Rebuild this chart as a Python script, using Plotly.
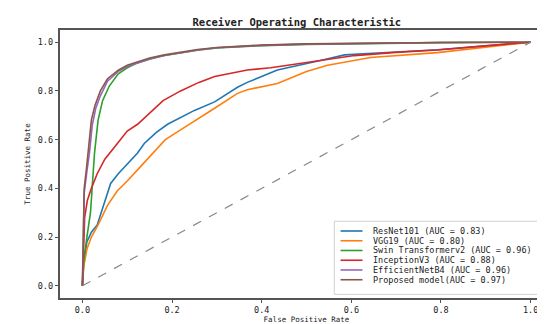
import plotly.graph_objects as go

# ---- data ----
resnet_fpr = [0, 0.003, 0.01, 0.02, 0.033, 0.045, 0.063, 0.08, 0.1, 0.123, 0.138, 0.165, 0.19, 0.219, 0.25, 0.295, 0.346, 0.368, 0.435, 0.531, 0.585, 0.7, 0.792, 0.9, 1.0]
resnet_tpr = [0, 0.1, 0.18, 0.22, 0.25, 0.32, 0.42, 0.46, 0.5, 0.545, 0.584, 0.63, 0.663, 0.69, 0.72, 0.755, 0.815, 0.835, 0.886, 0.925, 0.948, 0.96, 0.969, 0.985, 1.0]

vgg_fpr = [0, 0.003, 0.01, 0.02, 0.035, 0.056, 0.078, 0.1, 0.125, 0.152, 0.185, 0.219, 0.26, 0.295, 0.346, 0.368, 0.435, 0.5, 0.547, 0.643, 0.792, 0.9, 1.0]
vgg_tpr = [0, 0.08, 0.15, 0.2, 0.25, 0.33, 0.39, 0.43, 0.48, 0.533, 0.6, 0.64, 0.69, 0.729, 0.79, 0.805, 0.83, 0.88, 0.905, 0.937, 0.957, 0.98, 1.0]

swin_fpr = [0, 0.003, 0.01, 0.018, 0.027, 0.035, 0.045, 0.06, 0.08, 0.1, 0.123, 0.15, 0.183, 0.22, 0.257, 0.3, 0.4, 0.5, 0.6, 0.8, 1.0]
swin_tpr = [0, 0.1, 0.2, 0.3, 0.545, 0.68, 0.76, 0.82, 0.87, 0.895, 0.915, 0.93, 0.945, 0.957, 0.967, 0.976, 0.986, 0.991, 0.994, 0.998, 1.0]

incep_fpr = [0, 0.002, 0.005, 0.011, 0.02, 0.033, 0.05, 0.078, 0.1, 0.123, 0.145, 0.18, 0.219, 0.26, 0.295, 0.368, 0.42, 0.531, 0.607, 0.7, 0.792, 0.9, 1.0]
incep_tpr = [0, 0.15, 0.28, 0.35, 0.4, 0.46, 0.52, 0.584, 0.635, 0.663, 0.7, 0.76, 0.8, 0.835, 0.859, 0.886, 0.895, 0.925, 0.945, 0.958, 0.968, 0.985, 1.0]

effnet_fpr = [0, 0.002, 0.004, 0.01, 0.016, 0.022, 0.03, 0.04, 0.056, 0.08, 0.1, 0.123, 0.15, 0.183, 0.22, 0.257, 0.3, 0.4, 0.5, 0.6, 0.8, 1.0]
effnet_tpr = [0, 0.2, 0.38, 0.47, 0.55, 0.66, 0.73, 0.78, 0.84, 0.88, 0.9, 0.915, 0.932, 0.945, 0.958, 0.968, 0.977, 0.987, 0.992, 0.995, 0.999, 1.0]

prop_fpr = [0, 0.002, 0.004, 0.009, 0.014, 0.02, 0.028, 0.04, 0.056, 0.08, 0.1, 0.123, 0.15, 0.183, 0.22, 0.257, 0.3, 0.4, 0.5, 0.6, 0.8, 1.0]
prop_tpr = [0, 0.25, 0.4, 0.48, 0.58, 0.68, 0.74, 0.8, 0.85, 0.885, 0.905, 0.92, 0.935, 0.948, 0.96, 0.97, 0.978, 0.988, 0.993, 0.996, 0.999, 1.0]

labels = [
    "ResNet101 (AUC = 0.83)",
    "VGG19 (AUC = 0.80)",
    "Swin Transformerv2 (AUC = 0.96)",
    "InceptionV3 (AUC = 0.88)",
    "EfficientNetB4 (AUC = 0.96)",
    "Proposed model(AUC = 0.97)",
]
colors = ["#1f77b4", "#ff7f0e", "#2ca02c", "#d62728", "#9467bd", "#8c564b"]
series = [
    (resnet_fpr, resnet_tpr),
    (vgg_fpr, vgg_tpr),
    (swin_fpr, swin_tpr),
    (incep_fpr, incep_tpr),
    (effnet_fpr, effnet_tpr),
    (prop_fpr, prop_tpr),
]
tick_vals = [0, 0.2, 0.4, 0.6, 0.8, 1.0]
tick_text = ["0.0", "0.2", "0.4", "0.6", "0.8", "1.0"]

MONO = "DejaVu Sans Mono"

fig = go.Figure()
for (fx, ty), name, col in zip(series, labels, colors):
    fig.add_trace(go.Scatter(x=fx, y=ty, mode="lines", name=name,
                             line=dict(color=col, width=1.6), showlegend=False))
fig.add_trace(go.Scatter(x=[0, 1], y=[0, 1], mode="lines", showlegend=False,
                         line=dict(color="#888888", width=1.2, dash="dash")))

# manual legend (compact, matplotlib-like)
lx0, lx1, ly0, ly1 = 0.562, 1.038, -0.035, 0.265
fig.add_shape(type="rect", xref="x", yref="y", x0=lx0, x1=lx1, y0=ly0, y1=ly1,
              line=dict(color="#d0d0d0", width=1), fillcolor="rgba(255,255,255,0.85)",
              layer="above")
row_y = [0.225, 0.185, 0.145, 0.105, 0.065, 0.025]
for yv, name, col in zip(row_y, labels, colors):
    fig.add_shape(type="line", xref="x", yref="y", x0=0.576, x1=0.625, y0=yv, y1=yv,
                  line=dict(color=col, width=1.6), layer="above")
    fig.add_annotation(x=0.643, y=yv, xref="x", yref="y", text=name, showarrow=False,
                       xanchor="left", yanchor="middle",
                       font=dict(family=MONO, size=8.5, color="#222"))

axis_common = dict(
    showline=True, mirror=True, linecolor="#555", linewidth=1.5,
    ticks="outside", ticklen=3.5, tickwidth=1, tickcolor="#555",
    showgrid=False, zeroline=False, tickvals=tick_vals, ticktext=tick_text,
    tickfont=dict(family=MONO, size=8.5, color="#222"),
)
fig.update_xaxes(range=[-0.05, 1.05], **axis_common,
                 title=dict(text="False Positive Rate", standoff=0,
                            font=dict(family=MONO, size=7.5, color="#222")))
fig.update_yaxes(range=[-0.05, 1.05], **axis_common,
                 title=dict(text="True Positive Rate", standoff=6,
                            font=dict(family=MONO, size=7.5, color="#222")))

fig.update_layout(
    width=545, height=324,
    margin=dict(l=52, r=0, t=22, b=34, autoexpand=False),
    paper_bgcolor="white", plot_bgcolor="white",
    title=dict(text="<b>Receiver Operating Characteristic</b>", x=0.53, xanchor="center",
               y=0.956, yanchor="middle",
               font=dict(family=MONO, size=10.5, color="#222")),
)
fig.write_html("out.html")
